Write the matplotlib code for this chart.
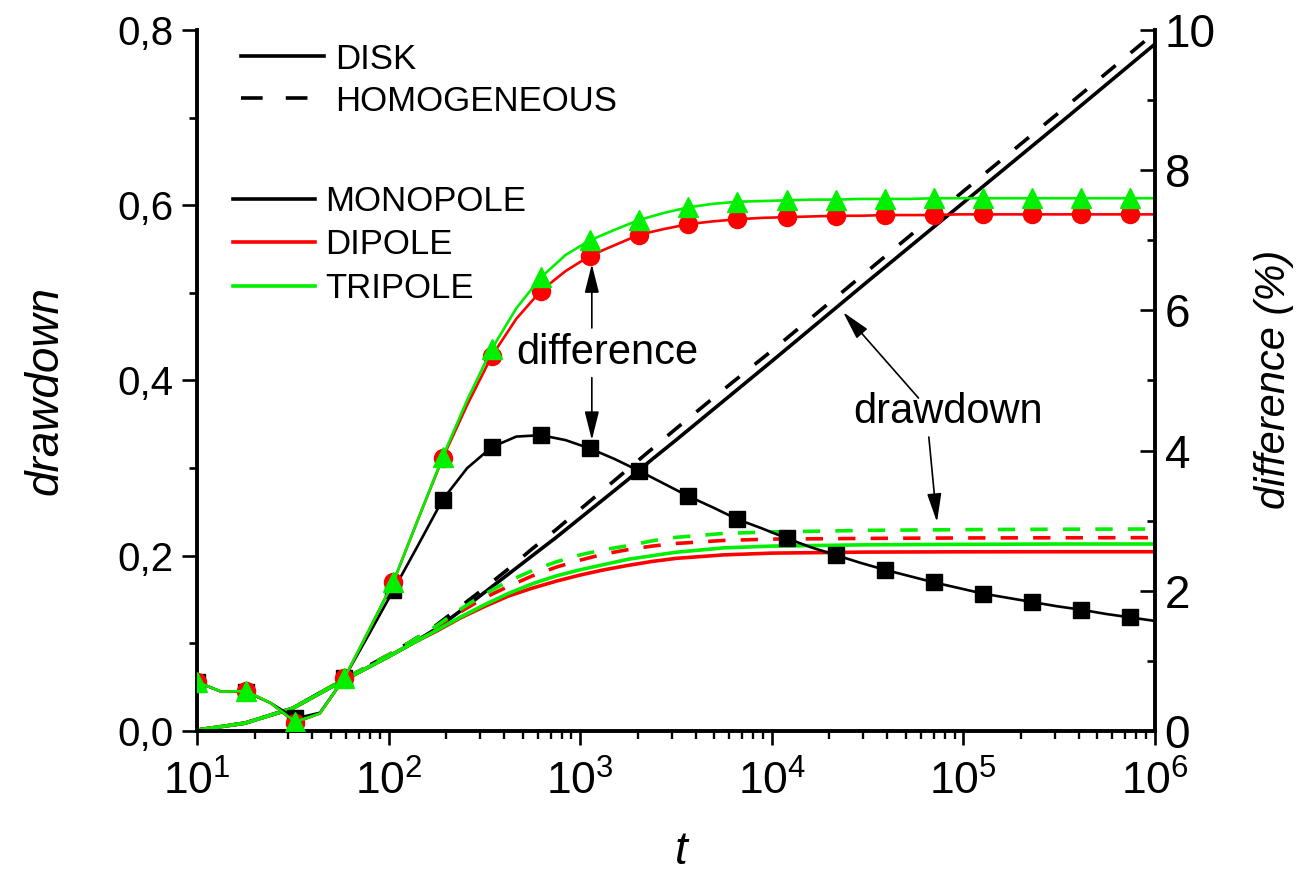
import matplotlib
matplotlib.use("Agg")
import matplotlib.pyplot as plt
from matplotlib.lines import Line2D
from matplotlib.ticker import LogLocator, MultipleLocator, FuncFormatter, NullFormatter

plt.rcParams['font.family'] = ['Liberation Sans', 'DejaVu Sans']
plt.rcParams['mathtext.fontset'] = 'custom'
plt.rcParams['mathtext.rm'] = 'Liberation Sans'
plt.rcParams['mathtext.it'] = 'Liberation Sans:italic'

# ---- drawdown (left axis) ----
t_dd = [10, 17.8, 31.6, 56.2, 100, 133, 178, 237, 316, 422, 562, 750, 1000,
        1334, 1778, 2371, 3162, 5623, 10000, 31623, 100000, 316228, 1000000]
s_disk_mono = [0.001, 0.009, 0.026, 0.056, 0.085, 0.100, 0.117, 0.137, 0.158, 0.179, 0.200, 0.221,
               0.243, 0.265, 0.287, 0.310, 0.332, 0.377, 0.422, 0.513, 0.603, 0.693, 0.784]
s_hom_mono = [0.001, 0.009, 0.026, 0.057, 0.087, 0.103, 0.121, 0.142, 0.163, 0.185, 0.208, 0.230,
              0.253, 0.276, 0.299, 0.322, 0.345, 0.390, 0.434, 0.525, 0.616, 0.706, 0.797]
s_disk_di = [0.001, 0.009, 0.026, 0.056, 0.085, 0.100, 0.114, 0.129, 0.142, 0.154, 0.163, 0.171,
             0.178, 0.184, 0.189, 0.1935, 0.197, 0.201, 0.203, 0.2042, 0.2045, 0.2046, 0.2046]
s_disk_tri = [0.001, 0.009, 0.026, 0.056, 0.085, 0.100, 0.115, 0.130, 0.144, 0.157, 0.168, 0.177,
              0.184, 0.190, 0.196, 0.200, 0.204, 0.209, 0.211, 0.2125, 0.213, 0.2134, 0.2134]
s_hom_di = [0.001, 0.009, 0.026, 0.057, 0.087, 0.103, 0.119, 0.136, 0.152, 0.165, 0.177, 0.187,
            0.195, 0.202, 0.207, 0.211, 0.214, 0.2175, 0.219, 0.2198, 0.2203, 0.2205, 0.2206]
s_hom_tri = [0.001, 0.009, 0.026, 0.057, 0.087, 0.103, 0.120, 0.139, 0.156, 0.171, 0.183, 0.193,
             0.201, 0.207, 0.2115, 0.217, 0.221, 0.2255, 0.2272, 0.229, 0.2298, 0.2303, 0.2305]

# ---- relative difference in % (right axis) ----
t_diff = [10, 13.4, 18.0, 24.2, 32.6, 43.8, 58.8, 79.0, 106, 142.5,
          191.5, 257, 345.6, 464, 623.5, 838, 1125, 1512, 2032, 2729,
          3666, 4924, 6615, 8886, 11937, 16035, 21544, 28938, 38881, 52230,
          70190, 94280, 126650, 170130, 228600, 307000, 412500, 554100, 744400, 1000000]
d_mono = [0.70, 0.56, 0.56, 0.40, 0.18, 0.26, 0.76, 1.38, 2.01, 2.65,
          3.30, 3.75, 4.05, 4.20, 4.22, 4.15, 4.03, 3.88, 3.71, 3.53,
          3.35, 3.19, 3.02, 2.89, 2.75, 2.62, 2.51, 2.40, 2.30, 2.21,
          2.12, 2.04, 1.96, 1.90, 1.84, 1.78, 1.73, 1.67, 1.62, 1.57]
d_di = [0.70, 0.56, 0.57, 0.40, 0.12, 0.25, 0.75, 1.44, 2.13, 3.02,
        3.89, 4.65, 5.35, 5.88, 6.28, 6.56, 6.78, 6.93, 7.08, 7.16,
        7.23, 7.27, 7.30, 7.32, 7.33, 7.34, 7.35, 7.35, 7.36, 7.36,
        7.36, 7.37, 7.37, 7.37, 7.37, 7.37, 7.37, 7.37, 7.37, 7.37]
d_tri = [0.70, 0.56, 0.57, 0.40, 0.13, 0.25, 0.76, 1.44, 2.13, 3.02,
         3.91, 4.72, 5.45, 6.03, 6.47, 6.79, 7.00, 7.15, 7.29, 7.39,
         7.47, 7.52, 7.55, 7.56, 7.57, 7.58, 7.58, 7.59, 7.59, 7.59,
         7.60, 7.60, 7.60, 7.60, 7.60, 7.60, 7.60, 7.60, 7.60, 7.60]

legend_geometry = ['DISK', 'HOMOGENEOUS']
legend_source = ['MONOPOLE', 'DIPOLE', 'TRIPOLE']

RED = '#ff0000'
GREEN = '#00f000'
LW = 2.6
DASH_K = (0, (5.0, 5.4))
DASH_C = (0, (4.8, 4.2))

fig = plt.figure(figsize=(13, 8.72), dpi=100)
ax = fig.add_axes([197 / 1300, 141 / 872, 958 / 1300, 701 / 872])
ax2 = ax.twinx()

# drawdown curves
ax.plot(t_dd, s_hom_mono, color='k', lw=LW, ls=DASH_K)
ax.plot(t_dd, s_disk_mono, color='k', lw=LW)
ax.plot(t_dd, s_hom_di, color=RED, lw=LW, ls=DASH_C)
ax.plot(t_dd, s_hom_tri, color=GREEN, lw=LW, ls=DASH_C)
ax.plot(t_dd, s_disk_di, color=RED, lw=LW)
ax.plot(t_dd, s_disk_tri, color=GREEN, lw=LW)

# difference curves
ax2.plot(t_diff, d_mono, color='k', lw=1.9, marker='s', ms=11.5, markevery=2, mec='k')
ax2.plot(t_diff, d_di, color=RED, lw=1.9, marker='o', ms=13, markevery=2, mec=RED)
ax2.plot(t_diff, d_tri, color=GREEN, lw=1.9, marker='^', ms=14, markevery=2, mec=GREEN)

ax.set_xscale('log')
ax.set_xlim(10, 1e6)
ax.set_ylim(0, 0.8)
ax2.set_ylim(0, 10)

ax.xaxis.set_major_locator(LogLocator(base=10, numticks=10))
ax.xaxis.set_minor_locator(LogLocator(base=10, subs=range(2, 10), numticks=100))
ax.xaxis.set_minor_formatter(NullFormatter())
ax.yaxis.set_major_locator(MultipleLocator(0.2))
ax.yaxis.set_minor_locator(MultipleLocator(0.1))
ax.yaxis.set_major_formatter(FuncFormatter(lambda v, p: f"{v:.1f}".replace('.', ',')))
ax2.yaxis.set_major_locator(MultipleLocator(2))
ax2.yaxis.set_minor_locator(MultipleLocator(1))
ax2.yaxis.set_major_formatter(FuncFormatter(lambda v, p: f"{v:.0f}"))

for a in (ax, ax2):
    a.spines['top'].set_visible(False)
    for sp in a.spines.values():
        sp.set_linewidth(2.8)
ax.spines['right'].set_visible(False)
ax2.spines['left'].set_visible(False)
ax2.spines['bottom'].set_visible(False)

ax.tick_params(axis='y', which='major', direction='out', length=11, width=1.9, labelsize=29, pad=6)
ax.tick_params(axis='y', which='minor', direction='out', length=5.5, width=1.9)
ax.tick_params(axis='x', which='major', direction='out', length=10, width=1.9, labelsize=32, pad=11)
ax.tick_params(axis='x', which='minor', direction='out', length=6, width=1.7)
ax2.tick_params(axis='y', which='major', direction='in', length=11, width=1.9, labelsize=33, pad=7)
ax2.tick_params(axis='y', which='minor', direction='in', length=6, width=1.9)

ax.set_xlabel('t', fontsize=33, style='italic', va='center')
ax.xaxis.set_label_coords(0.506, -0.172)
ax.set_ylabel('drawdown', fontsize=33, style='italic', va='center')
ax.yaxis.set_label_coords(-0.158, 0.486)
ax2.set_ylabel('difference (%)', fontsize=30, style='italic', va='center')
ax2.yaxis.set_label_coords(1.124, 0.502)

# legends
h_geom = [Line2D([], [], color='k', lw=LW),
          Line2D([], [], color='k', lw=LW, ls=(0, (6.0, 6.4)))]
h_src = [Line2D([], [], color='k', lw=LW),
         Line2D([], [], color=RED, lw=LW),
         Line2D([], [], color=GREEN, lw=LW)]
leg1 = ax2.legend(h_geom, legend_geometry, loc='upper left', bbox_to_anchor=(0.0459, 0.982),
                  frameon=False, fontsize=25, handlelength=2.4, handletextpad=0.3,
                  labelspacing=0.26, borderpad=0, borderaxespad=0)
ax2.add_artist(leg1)
ax2.legend(h_src, legend_source, loc='upper left', bbox_to_anchor=(0.0376, 0.779),
           frameon=False, fontsize=25, handlelength=2.35, handletextpad=0.3,
           labelspacing=0.3, borderpad=0, borderaxespad=0)

# annotations
arrow = dict(arrowstyle='-|>,head_length=0.8,head_width=0.2', color='k', lw=1.2,
             shrinkA=0, shrinkB=0, mutation_scale=22)
ax2.text(1389, 5.39, 'difference', ha='center', va='center', fontsize=30)
ax2.annotate('', xy=(1150, 6.66), xytext=(1150, 5.75), arrowprops=arrow)
ax2.annotate('', xy=(1150, 4.15), xytext=(1150, 5.04), arrowprops=arrow)

ax.text(83200, 0.364, 'drawdown', ha='center', va='center', fontsize=30)
ax.annotate('', xy=(23560, 0.478), xytext=(58300, 0.380), arrowprops=arrow)
ax.annotate('', xy=(72800, 0.2385), xytext=(66000, 0.3355), arrowprops=arrow)

fig.savefig('out.png', dpi=100)
